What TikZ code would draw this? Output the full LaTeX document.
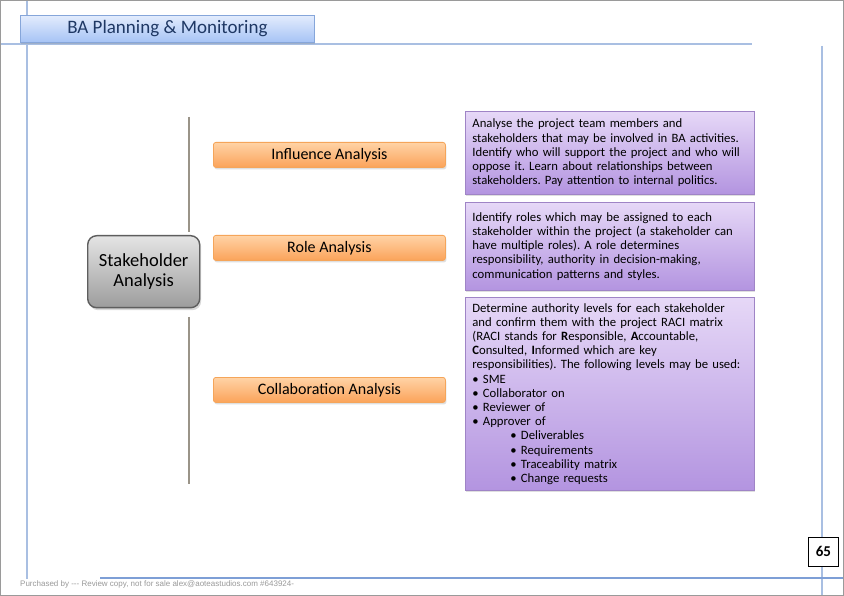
\documentclass[tikz,border=0pt]{standalone}
\usepackage{fontspec}
\setmainfont{Carlito}
\newfontfamily\footfont{Liberation Sans}
\usetikzlibrary{shadows}
\definecolor{framegray}{HTML}{9A9A9A}
\definecolor{bluelineA}{HTML}{A9BFE2}
\definecolor{bluelineB}{HTML}{7E9FD6}
\definecolor{titletop}{HTML}{E3ECFD}
\definecolor{titlebot}{HTML}{A6C3F5}
\definecolor{titleborder}{HTML}{86A6DA}
\definecolor{titletext}{HTML}{1F3864}
\definecolor{orangetop}{HTML}{FFD3A6}
\definecolor{orangebot}{HTML}{FBA35A}
\definecolor{orangeborder}{HTML}{F5A55A}
\definecolor{purpletop}{HTML}{E6D8F7}
\definecolor{purplebot}{HTML}{B394E0}
\definecolor{purpleborder}{HTML}{9F84C6}
\definecolor{graytop}{HTML}{E4E4E4}
\definecolor{graybot}{HTML}{9C9C9C}
\definecolor{grayborder}{HTML}{5E5E5E}
\definecolor{stemcolor}{HTML}{9A9488}
\tikzset{
  blueline/.style={bluelineA, line width=1.6pt},
  titlebox/.style={draw=titleborder, line width=0.8pt, top color=titletop, bottom color=titlebot,
    anchor=north west, minimum width=294pt, minimum height=27pt, inner sep=0pt,
    font=\fontsize{19}{22}\selectfont, text=titletext,
    drop shadow={opacity=0.25, shadow xshift=1pt, shadow yshift=-1.5pt}},
  topicbox/.style={draw=orangeborder, line width=0.8pt, top color=orangetop, bottom color=orangebot,
    rounded corners=2.5pt, anchor=north west, minimum width=232pt, minimum height=25pt, inner sep=0pt,
    font=\fontsize{16}{18}\selectfont,
    drop shadow={opacity=0.25, shadow xshift=1pt, shadow yshift=-2pt}},
  descbox/.style={draw=purpleborder, line width=0.8pt, top color=purpletop, bottom color=purplebot,
    anchor=north west, minimum width=289pt, text width=275pt, inner xsep=7pt, inner ysep=4pt, align=left,
    font=\fontsize{12.7}{14.2}\selectfont,
    drop shadow={opacity=0.25, shadow xshift=1pt, shadow yshift=-2pt}},
  centerbox/.style={draw=grayborder, line width=1.4pt, top color=graytop, bottom color=graybot,
    rounded corners=9pt, anchor=north west, minimum width=112pt, minimum height=72pt, inner sep=0pt,
    align=center, font=\fontsize{18.5}{20}\selectfont,
    drop shadow={opacity=0.3, shadow xshift=1.5pt, shadow yshift=-2.5pt}},
  stem/.style={stemcolor, line width=1.2pt},
}
\frenchspacing
\begin{document}
\begin{tikzpicture}[x=1pt,y=-1pt]
\useasboundingbox (0,0) rectangle (844,596);
\fill[white] (0,0) rectangle (844,596);
% frame lines
\draw[blueline] (27,0) -- (27,579);
\draw[blueline] (0,44) -- (752,44);
\draw[blueline] (822,46) -- (822,596);
\draw[bluelineB, line width=1.2pt] (100,578) -- (844,578);
\draw[framegray, line width=1.2pt] (0.6,0.6) rectangle (843.4,595.4);
% title
\node[titlebox] (title) at (20,15) {BA Planning \& Monitoring};
% stem
\coordinate (stemtop) at (189,117);
\coordinate (stemmidA) at (189,232);
\coordinate (stemmidB) at (189,317);
\coordinate (stembot) at (189,484);
\draw[stem] (stemtop) -- (stemmidA);
\draw[stem] (stemmidB) -- (stembot);
% center
\node[centerbox] (sa) at (87,235) {Stakeholder\\Analysis};
% topics
\node[topicbox] (inf) at (213,142) {Influence Analysis};
\node[topicbox] (role) at (213,235) {Role Analysis};
\node[topicbox] (coll) at (213,377) {Collaboration Analysis};
% descriptions
\node[descbox, minimum height=83pt] (d1) at (465,111) {Analyse the project team members and\\
stakeholders that may be involved in BA activities.\\
Identify who will support the project and who will\\
oppose it. Learn about relationships between\\
stakeholders. Pay attention to internal politics.};
\node[descbox, minimum height=88pt] (d2) at (465,202) {Identify roles which may be assigned to each\\
stakeholder within the project (a stakeholder can\\
have multiple roles). A role determines\\
responsibility, authority in decision-making,\\
communication patterns and styles.};
\node[descbox, minimum height=193pt] (d3) at (465,297) {Determine authority levels for each stakeholder\\
and confirm them with the project RACI matrix\\
(RACI stands for \textbf{R}esponsible, \textbf{A}ccountable,\\
\textbf{C}onsulted, \textbf{I}nformed which are key\\
responsibilities). The following levels may be used:\\
\textbullet\ SME\\
\textbullet\ Collaborator on\\
\textbullet\ Reviewer of\\
\textbullet\ Approver of\\
\hspace*{38pt}\textbullet\ Deliverables\\
\hspace*{38pt}\textbullet\ Requirements\\
\hspace*{38pt}\textbullet\ Traceability matrix\\
\hspace*{38pt}\textbullet\ Change requests};
% page number
\node[draw=black, line width=0.8pt, fill=white, anchor=north west, minimum width=30pt, minimum height=29pt,
  inner sep=0pt, font=\fontsize{15}{16}\selectfont\bfseries] (page) at (808,537) {65};
% footer
\node[anchor=west, inner sep=0pt, text=framegray, font=\footfont\fontsize{8}{9}\selectfont] (foot) at (20,584)
  {Purchased by --- Review copy, not for sale alex@aoteastudios.com \#643924-};
\end{tikzpicture}
\end{document}
